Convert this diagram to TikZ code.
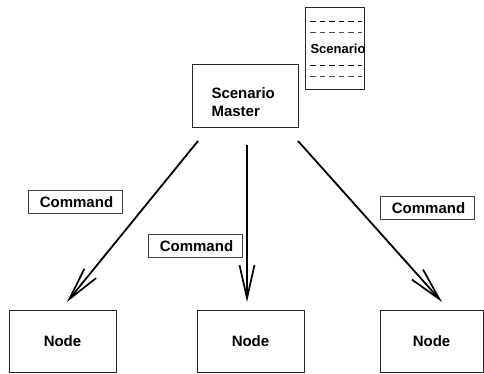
\documentclass[tikz,border=0pt]{standalone}
\usepackage{fontspec}
\setmainfont{Liberation Sans}
\usetikzlibrary{arrows.meta}
\begin{document}
\begin{tikzpicture}[x=1pt,y=-1pt,
  label/.style={font=\fontsize{15}{18}\selectfont\bfseries},
  box/.style={label,draw=black!85,line width=0.9pt,inner sep=0pt},
  cmd/.style={label,draw=black!75,line width=0.9pt,inner sep=0pt,minimum width=94pt,minimum height=23pt},
  flow/.style={line width=1.8pt,-{Straight Barb[length=33pt,width=15pt,line width=1.7pt]}},
  sep/.style={dash pattern=on 5.5pt off 4pt,line width=0.9pt}]
\useasboundingbox (0,0) rectangle (484,374);
% scenario document
\node[draw=black!85,line width=0.9pt,minimum width=59pt,minimum height=82pt,inner sep=0pt] (doc) at (334.5,48) {};
\node[font=\fontsize{13}{15}\selectfont\bfseries,anchor=west] (doctext) at (307,49) {Scenario};
\coordinate (d1l) at (310,21); \coordinate (d1r) at (362,21);
\coordinate (d2l) at (310,32); \coordinate (d2r) at (362,32);
\coordinate (d3l) at (310,65); \coordinate (d3r) at (362,65);
\coordinate (d4l) at (310,76); \coordinate (d4r) at (362,76);
\draw[sep] (d1l) -- (d1r);
\draw[sep,black!70] (d2l) -- (d2r);
\draw[sep] (d3l) -- (d3r);
\draw[sep,black!70] (d4l) -- (d4r);
% master
\node[box,minimum width=106pt,minimum height=63pt] (master) at (245.5,95.5) {};
\node[label,align=left,anchor=west] (mtext) at (208,102) {Scenario\\Master};
% nodes
\node[box,minimum width=107pt,minimum height=62pt] (n1) at (62.5,341) {Node};
\node[box,minimum width=107pt,minimum height=62pt] (n2) at (250.5,341) {Node};
\node[box,minimum width=103pt,minimum height=62pt] (n3) at (431.5,341) {Node};
% arrows
\coordinate (s1) at (198,141); \coordinate (t1) at (67,302);
\coordinate (s2) at (247,145); \coordinate (t2) at (247,302);
\coordinate (s3) at (298,141); \coordinate (t3) at (442,302);
\draw[flow] (s1) -- (t1);
\draw[flow] (s2) -- (t2);
\draw[flow] (s3) -- (t3);
% commands
\node[cmd] (c1) at (75,202) {\hspace{3pt}Command};
\node[cmd] (c2) at (195,246) {\hspace{3pt}Command};
\node[cmd] (c3) at (427,208) {\hspace{3pt}Command};
\end{tikzpicture}
\end{document}
